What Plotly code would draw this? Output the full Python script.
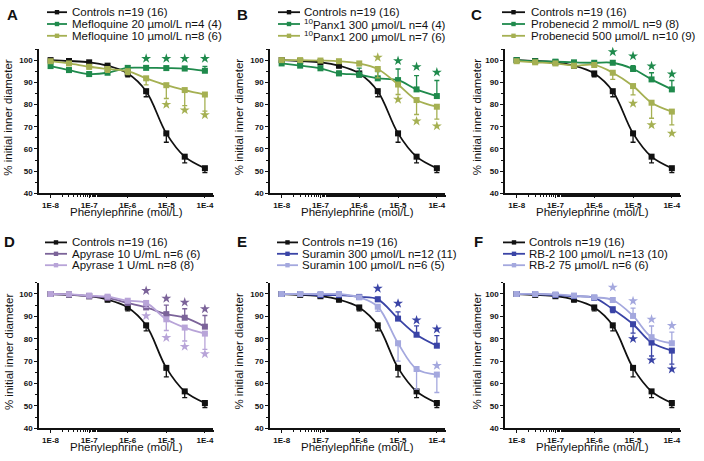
import plotly.graph_objects as go

# ---------------- data ----------------
conc = [1e-8, 3e-8, 1e-7, 3e-7, 1e-6, 3e-6, 1e-5, 3e-5, 1e-4]
x_tick_vals = [1e-8, 1e-7, 1e-6, 1e-5, 1e-4]
x_tick_text = ["1E-8", "1E-7", "1E-6", "1E-5", "1E-4"]
y_tick_vals = [40, 50, 60, 70, 80, 90, 100]

ctrl_y = [100, 99.6, 99.0, 97.5, 94.0, 86.0, 67.0, 56.5, 51.3]
ctrl_up = [0, 0, 0, 0, 0, 0, 0, 0, 0]
ctrl_dn = [0.6, 0.6, 0.8, 1.0, 1.5, 2.5, 4.0, 2.8, 2.0]

# Panel A
mef20_y = [97.3, 95.5, 93.7, 94.3, 96.5, 96.5, 96.4, 96.2, 95.2]
mef20_up = [0.5, 1.0, 1.0, 1.0, 1.0, 0.8, 0.8, 1.0, 2.0]
mef20_dn = [0, 0, 0, 0, 0, 0, 0, 0, 0]
mef10_y = [99.5, 98.5, 97.0, 96.0, 95.0, 91.8, 88.7, 86.5, 84.5]
mef10_up = [0, 0, 0, 0, 0, 0, 0, 0, 0]
mef10_dn = [0.5, 0.8, 1.0, 1.5, 1.5, 3.0, 6.0, 7.0, 7.5]
mef20_star_x = [3e-6, 1e-5, 3e-5, 1e-4]
mef20_star_y = [100.7, 100.7, 100.7, 100.7]
mef10_star_x = [1e-5, 3e-5, 1e-4]
mef10_star_y = [80.0, 77.5, 75.3]

# Panel B
panx300_y = [98.5, 97.5, 96.3, 94.0, 93.4, 91.8, 91.0, 86.8, 83.8]
panx300_up = [0.5, 0.8, 1.0, 1.0, 3.0, 3.0, 5.0, 6.2, 7.0]
panx300_dn = [0, 0, 0, 0, 0, 0, 0, 0, 0]
panx200_y = [100, 100, 99.8, 99.5, 98.5, 96.0, 89.0, 82.0, 79.0]
panx200_up = [0, 0, 0, 0, 0, 0, 0, 0, 0]
panx200_dn = [0.3, 0.3, 0.5, 0.5, 1.0, 4.0, 4.5, 6.5, 5.6]
panx300_star_x = [1e-5, 3e-5, 1e-4]
panx300_star_y = [99.7, 97.0, 94.5]
panx200_star_x = [3e-6, 1e-5, 3e-5, 1e-4]
panx200_star_y = [101.2, 82.3, 72.5, 70.3]

# Panel C
prob2_y = [100, 99.5, 99.3, 99.0, 98.8, 98.8, 96.0, 91.3, 86.8]
prob2_up = [0.3, 0.3, 0.5, 0.5, 0.8, 1.0, 1.5, 3.0, 4.0]
prob2_dn = [0, 0, 0, 0, 0, 0, 0, 0, 0]
prob500_y = [99.5, 99.0, 98.5, 97.5, 97.8, 94.3, 88.3, 80.8, 76.8]
prob500_up = [0, 0, 0, 0, 0, 0, 0, 0, 0]
prob500_dn = [0.3, 0.5, 0.8, 1.0, 1.0, 3.0, 4.0, 7.0, 6.0]
prob2_star_x = [3e-6, 1e-5, 3e-5, 1e-4]
prob2_star_y = [103.7, 101.8, 97.3, 93.7]
prob500_star_x = [1e-5, 3e-5, 1e-4]
prob500_star_y = [80.5, 70.8, 67.0]

# Panel D
apy10_y = [100, 99.8, 99.0, 98.3, 96.0, 94.0, 91.0, 89.4, 85.4]
apy10_up = [0.3, 0.3, 0.5, 0.8, 1.0, 2.0, 4.0, 4.0, 5.0]
apy10_dn = [0, 0, 0, 0, 0, 0, 0, 0, 0]
apy1_y = [100, 99.8, 99.3, 98.8, 97.0, 96.0, 88.7, 85.0, 82.3]
apy1_up = [0, 0, 0, 0, 0, 0, 0, 0, 0]
apy1_dn = [0.3, 0.3, 0.5, 0.8, 1.0, 2.0, 5.0, 6.0, 7.0]
apy10_star_x = [3e-6, 1e-5, 3e-5, 1e-4]
apy10_star_y = [101.5, 98.0, 96.3, 93.3]
apy1_star_x = [3e-6, 1e-5, 3e-5, 1e-4]
apy1_star_y = [90.2, 80.5, 76.5, 73.2]

# Panel E
sur300_y = [100, 100, 99.5, 99.5, 98.7, 97.6, 89.0, 81.8, 76.9]
sur300_up = [0.3, 0.3, 0.5, 0.5, 0.8, 1.0, 3.0, 4.0, 4.5]
sur300_dn = [0, 0, 0, 0, 0, 0, 0, 0, 0]
sur100_y = [100, 100, 100, 100, 98.5, 94.3, 78.0, 66.5, 64.0]
sur100_up = [0, 0, 0, 0, 0, 0, 0, 0, 0]
sur100_dn = [0.3, 0.3, 0.3, 0.3, 0.8, 2.0, 8.0, 9.0, 8.0]
sur300_star_x = [3e-6, 1e-5, 3e-5, 1e-4]
sur300_star_y = [102.5, 95.8, 88.3, 84.3]
sur100_star_x = [1e-4]
sur100_star_y = [68.0]

# Panel F
rb100_y = [100, 100, 99.5, 99.0, 98.3, 93.2, 86.5, 78.3, 74.7]
rb100_up = [0, 0, 0, 0, 0, 0, 0, 0, 0]
rb100_dn = [0.3, 0.3, 0.5, 0.5, 0.8, 1.5, 4.0, 6.0, 6.0]
rb75_y = [100, 100, 99.8, 99.3, 98.5, 97.3, 90.2, 80.7, 78.0]
rb75_up = [0.3, 0.3, 0.5, 0.5, 0.8, 1.0, 3.5, 5.0, 5.0]
rb75_dn = [0, 0, 0, 0, 0, 0, 0, 0, 0]
rb75_star_x = [3e-6, 1e-5, 3e-5, 1e-4]
rb75_star_y = [103.0, 96.9, 88.7, 85.9]
rb100_star_x = [1e-5, 3e-5, 1e-4]
rb100_star_y = [80.0, 70.5, 66.4]

panel_letters = ["A", "B", "C", "D", "E", "F"]
legend_labels = [
    ["Controls n=19 (16)", "Mefloquine 20 µmol/L n=4 (4)", "Mefloquine 10 µmol/L n=8 (6)"],
    ["Controls n=19 (16)", "<sup>10</sup>Panx1 300 µmol/L n=4 (4)", "<sup>10</sup>Panx1 200 µmol/L n=7 (6)"],
    ["Controls n=19 (16)", "Probenecid 2 mmol/L n=9 (8)", "Probenecid 500 µmol/L n=10 (9)"],
    ["Controls n=19 (16)", "Apyrase 10 U/mL n=6 (6)", "Apyrase 1 U/mL n=8 (8)"],
    ["Controls n=19 (16)", "Suramin 300 µmol/L n=12 (11)", "Suramin 100 µmol/L n=6 (5)"],
    ["Controls n=19 (16)", "RB-2 100 µmol/L n=13 (10)", "RB-2 75 µmol/L n=6 (6)"],
]

# ---------------- styling ----------------
W, H = 704, 461
BLACK = "#111111"
GREEN = "#1f8a4c"
OLIVE = "#a5b052"
PURPLE_DK = "#7b6399"
PURPLE_LT = "#b8a4d8"
BLUE_DK = "#3a44a6"
BLUE_LT = "#a4a8de"
FONT = "Liberation Sans, Arial, sans-serif"

cols_px = [(39, 213), (270, 445), (505, 680)]
rows_px = [(49, 193.3), (282.8, 428.3)]

def px(x):
    return x / W

def py(y):
    return 1 - y / H

panels = [
    dict(series=[(mef20_y, mef20_up, mef20_dn, GREEN), (mef10_y, mef10_up, mef10_dn, OLIVE)],
         stars=[(mef20_star_x, mef20_star_y, GREEN), (mef10_star_x, mef10_star_y, OLIVE)]),
    dict(series=[(panx300_y, panx300_up, panx300_dn, GREEN), (panx200_y, panx200_up, panx200_dn, OLIVE)],
         stars=[(panx300_star_x, panx300_star_y, GREEN), (panx200_star_x, panx200_star_y, OLIVE)]),
    dict(series=[(prob2_y, prob2_up, prob2_dn, GREEN), (prob500_y, prob500_up, prob500_dn, OLIVE)],
         stars=[(prob2_star_x, prob2_star_y, GREEN), (prob500_star_x, prob500_star_y, OLIVE)]),
    dict(series=[(apy10_y, apy10_up, apy10_dn, PURPLE_DK), (apy1_y, apy1_up, apy1_dn, PURPLE_LT)],
         stars=[(apy10_star_x, apy10_star_y, PURPLE_DK), (apy1_star_x, apy1_star_y, PURPLE_LT)]),
    dict(series=[(sur300_y, sur300_up, sur300_dn, BLUE_DK), (sur100_y, sur100_up, sur100_dn, BLUE_LT)],
         stars=[(sur300_star_x, sur300_star_y, BLUE_DK), (sur100_star_x, sur100_star_y, BLUE_LT)]),
    dict(series=[(rb100_y, rb100_up, rb100_dn, BLUE_DK), (rb75_y, rb75_up, rb75_dn, BLUE_LT)],
         stars=[(rb75_star_x, rb75_star_y, BLUE_LT), (rb100_star_x, rb100_star_y, BLUE_DK)]),
]

# legend geometry per panel: (line x0, line x1, text x, row y's)
legend_geo = [
    (47, 67, 70, [12.2, 24.0, 35.8]),
    (278, 300, 302, [12.2, 24.0, 35.8]),
    (502, 525, 529, [12.2, 24.0, 35.8]),
    (45, 67, 70, [242.4, 253.8, 265.2]),
    (277, 298, 300, [242.4, 253.8, 265.2]),
    (503, 525, 527, [242.4, 253.8, 265.2]),
]
letter_pos = [(12.5, 14.7), (242, 14.7), (476, 14.7), (9.5, 241.7), (241.7, 241.7), (478, 241.7)]

fig = go.Figure()
layout = dict(width=W, height=H, margin=dict(l=0, r=0, t=0, b=0, autoexpand=False),
              paper_bgcolor="white", plot_bgcolor="white", showlegend=False,
              font=dict(family=FONT, color=BLACK))
annotations = []
shapes = []

for i, p in enumerate(panels):
    r, c = divmod(i, 3)
    xname = "x" if i == 0 else f"x{i+1}"
    yname = "y" if i == 0 else f"y{i+1}"
    xkey = "xaxis" if i == 0 else f"xaxis{i+1}"
    ykey = "yaxis" if i == 0 else f"yaxis{i+1}"
    x0p, x1p = cols_px[c]
    y0p, y1p = rows_px[r]
    layout[xkey] = dict(
        domain=[px(x0p), px(x1p)], anchor=yname, type="log", range=[-8.3, -3.79],
        tickvals=x_tick_vals, ticktext=x_tick_text, ticks="outside", ticklen=3,
        tickwidth=1.2, tickcolor=BLACK, showline=True, linecolor=BLACK, linewidth=1.5,
        showgrid=False, zeroline=False,
        tickfont=dict(size=8, family=FONT, color=BLACK, weight="bold"),
        minor=dict(ticks="outside", ticklen=2, tickwidth=1, tickcolor=BLACK, showgrid=False),
    )
    layout[ykey] = dict(
        domain=[py(y1p), py(y0p)], anchor=xname, range=[40, 105],
        tickvals=y_tick_vals, ticks="outside", ticklen=3, tickwidth=1.2, tickcolor=BLACK,
        showline=True, linecolor=BLACK, linewidth=1.5, showgrid=False, zeroline=False,
        tickfont=dict(size=8, family=FONT, color=BLACK, weight="bold"),
        minor=dict(ticks="outside", ticklen=2, tickwidth=1, tickcolor=BLACK, dtick=5, showgrid=False),
    )

    all_series = [(ctrl_y, ctrl_up, ctrl_dn, BLACK)] + p["series"]
    for (yv, up, dn, col) in all_series:
        fig.add_trace(go.Scatter(
            x=conc, y=yv, mode="lines+markers", xaxis=xname, yaxis=yname,
            line=dict(color=col, width=1.8, shape="spline", smoothing=1.0),
            marker=dict(symbol="square", size=6, color=col),
            error_y=dict(type="data", symmetric=False, array=up, arrayminus=dn,
                         color=col, thickness=1.3, width=2.5),
            cliponaxis=False,
        ))
    for (sx, sy, col) in p["stars"]:
        fig.add_trace(go.Scatter(
            x=sx, y=sy, mode="markers", xaxis=xname, yaxis=yname,
            marker=dict(symbol="star", size=7.5, color=col, line=dict(width=0)),
            cliponaxis=False,
        ))

    # axis titles
    annotations.append(dict(
        text="Phenylephrine (mol/L)", x=px((x0p + x1p) / 2), y=py(y1p + 19),
        xref="paper", yref="paper", xanchor="center", yanchor="middle", showarrow=False,
        font=dict(size=11.5, family=FONT, color=BLACK)))
    ytitle_x = [8.5, 239, 477][c]
    annotations.append(dict(
        text="% initial inner diameter", x=px(ytitle_x), y=py((y0p + y1p) / 2 - 4),
        xref="paper", yref="paper", xanchor="center", yanchor="middle", showarrow=False,
        textangle=-90, font=dict(size=11.5, family=FONT, color=BLACK)))

    # panel letter
    lx, ly = letter_pos[i]
    annotations.append(dict(
        text="<b>%s</b>" % panel_letters[i], x=px(lx), y=py(ly), xref="paper", yref="paper",
        xanchor="center", yanchor="middle", showarrow=False,
        font=dict(size=15, family=FONT, color=BLACK)))

    # legend
    lx0, lx1, tx, rows = legend_geo[i]
    leg_cols = [BLACK] + [s[3] for s in p["series"]]
    for k, (ry, col) in enumerate(zip(rows, leg_cols)):
        shapes.append(dict(type="line", xref="paper", yref="paper",
                           x0=px(lx0), x1=px(lx1), y0=py(ry), y1=py(ry),
                           line=dict(color=col, width=1.8)))
        mx = (lx0 + lx1) / 2
        shapes.append(dict(type="rect", xref="paper", yref="paper",
                           x0=px(mx - 2.2), x1=px(mx + 2.2), y0=py(ry + 2.2), y1=py(ry - 2.2),
                           line=dict(width=0), fillcolor=col))
        annotations.append(dict(
            text=legend_labels[i][k], x=px(tx), y=py(ry), xref="paper", yref="paper",
            xanchor="left", yanchor="middle", showarrow=False,
            font=dict(size=11.5, family=FONT, color=BLACK)))

layout["annotations"] = annotations
layout["shapes"] = shapes
fig.update_layout(**layout)
fig.write_html(
    "out.html",
    config={"displayModeBar": False},
    post_script="document.body.style.margin='0';document.body.style.overflow='hidden';",
)
